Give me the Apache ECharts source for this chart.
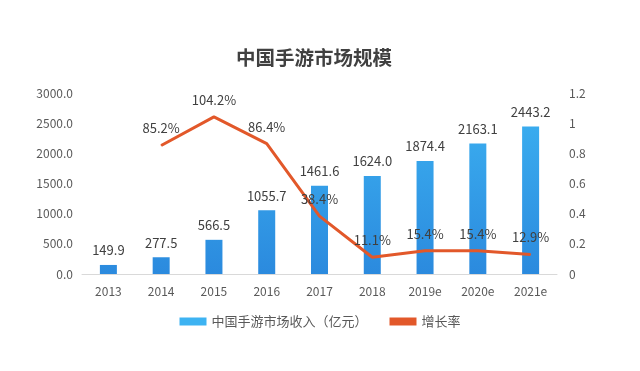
<!DOCTYPE html>
<html><head><meta charset="utf-8">
<script src="https://cdn.jsdelivr.net/npm/echarts@6/dist/echarts.min.js"></script>
<style>html,body{margin:0;padding:0;background:#fff}#c{width:640px;height:371px}</style>
</head><body><div id="c"></div>
<script>
var categories = ['2013','2014','2015','2016','2017','2018','2019e','2020e','2021e'];
var revenue = [149.9, 277.5, 566.5, 1055.7, 1461.6, 1624.0, 1874.4, 2163.1, 2443.2];
var growth = [null, 0.852, 1.042, 0.864, 0.384, 0.111, 0.154, 0.154, 0.129];
var leftTicks = [0, 500, 1000, 1500, 2000, 2500, 3000];
var rightTicks = [0, 0.2, 0.4, 0.6, 0.8, 1, 1.2];
var fontFam = '"Noto Sans CJK SC", "Open Sans", sans-serif';
var chart = echarts.init(document.getElementById('c'), null, {renderer:'canvas'});
chart.setOption({
  backgroundColor:'#fff',
  animation:false,
  textStyle:{fontFamily:fontFam},
  title:{text:'中国手游市场规模', left:231, top:43, textStyle:{fontSize:19.5, fontWeight:'bold', color:'#404040', fontFamily:fontFam}},
  legend:{bottom:38, itemGap:22, itemWidth:27, itemHeight:8, textStyle:{fontSize:13, color:'#595959'},
    data:[{name:'中国手游市场收入（亿元）', icon:'rect'}, {name:'增长率', icon:'rect'}]},
  grid:{left:82, right:83, top:93, bottom:97},
  xAxis:{type:'category', data:categories, axisTick:{show:false},
    axisLine:{lineStyle:{color:'#d9d9d9'}},
    axisLabel:{color:'#595959', fontSize:12, margin:11}},
  yAxis:[
    {type:'value', min:leftTicks[0], max:leftTicks[leftTicks.length-1], interval:500, splitLine:{show:false},
     axisLabel:{color:'#595959', fontSize:12, margin:9, formatter:function(v){return v.toFixed(1);}}},
    {type:'value', min:rightTicks[0], max:rightTicks[rightTicks.length-1], interval:0.2, splitLine:{show:false},
     axisLabel:{color:'#595959', fontSize:12, margin:12, formatter:function(v){return String(Math.round(v*10)/10);}}}
  ],
  series:[
    {name:'中国手游市场收入（亿元）', type:'bar', data:revenue, barWidth:17, yAxisIndex:0,
     itemStyle:{color:new echarts.graphic.LinearGradient(0, 93, 0, 274, [{offset:0, color:'#3db3f2'},{offset:1, color:'#2b8ade'}], true)},
     label:{show:true, position:'top', distance:8, color:'#404040', fontSize:13, formatter:function(p){return p.value.toFixed(1);}}},
    {name:'增长率', type:'line', data:growth, yAxisIndex:1, symbol:'circle', symbolSize:1, showSymbol:true, connectNulls:false,
     lineStyle:{color:'#e2582a', width:3}, itemStyle:{color:'#e2582a'},
     labelLayout:{hideOverlap:false},
     label:{show:true, position:'top', distance:10, color:'#404040', fontSize:13,
       formatter:function(p){return (p.value*100).toFixed(1)+'%';}}}
  ]
});
</script></body></html>
